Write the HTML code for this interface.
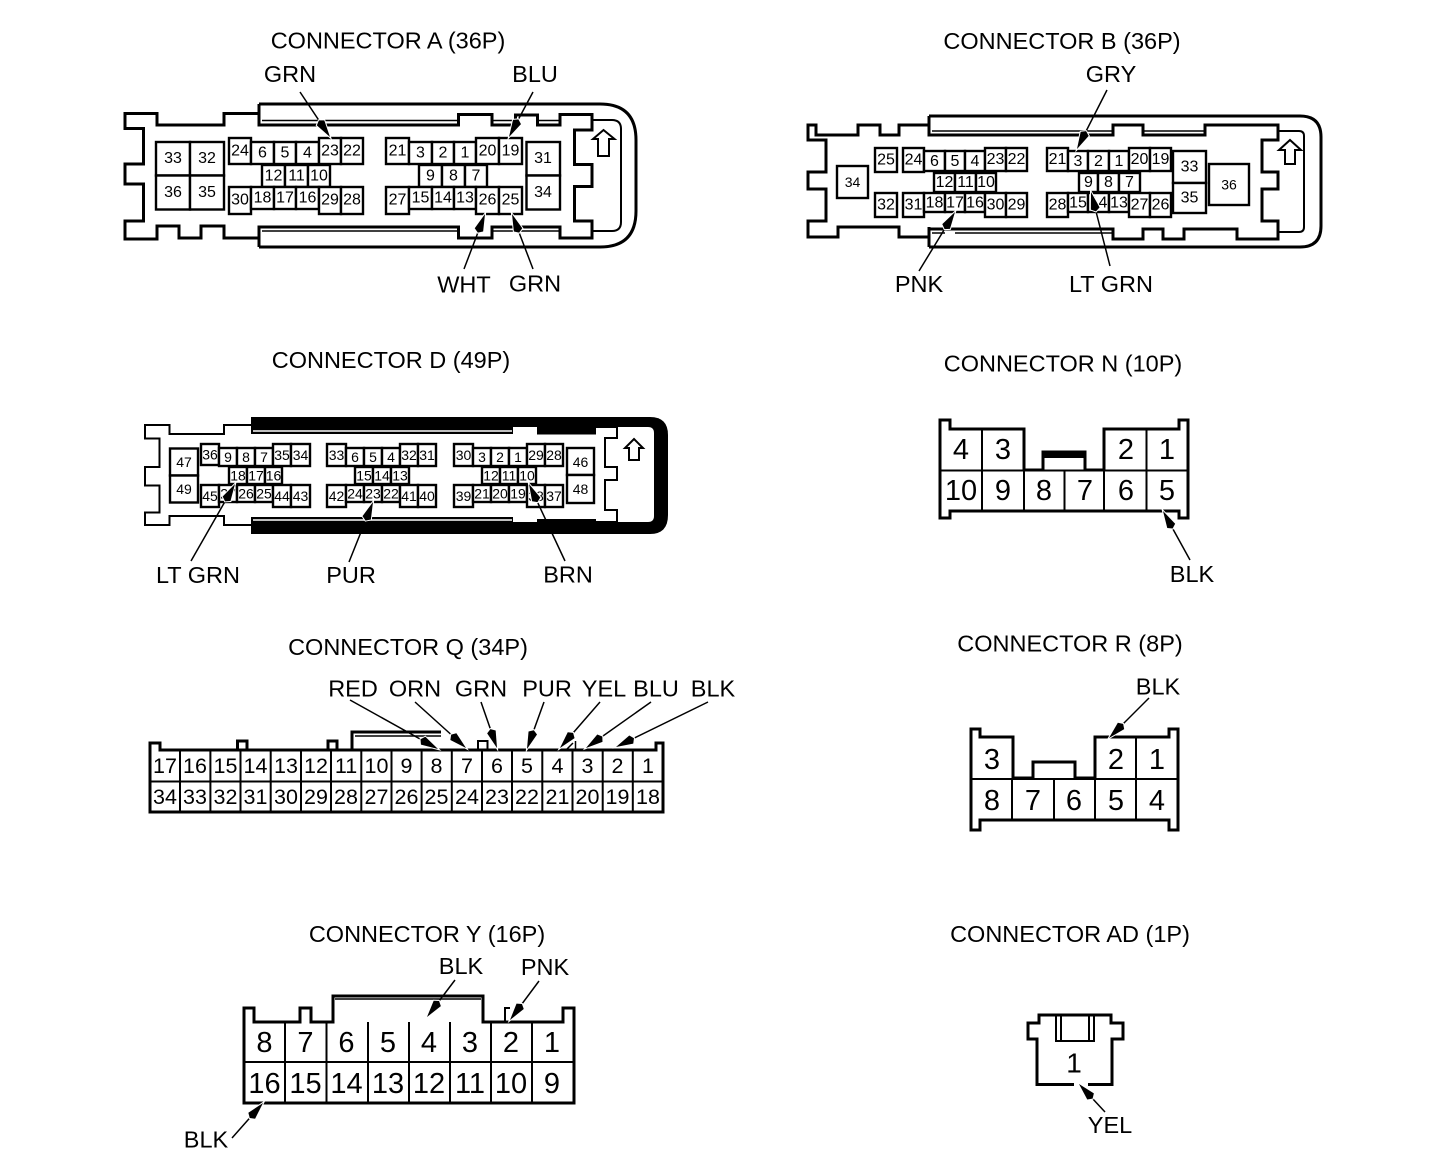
<!DOCTYPE html>
<html><head><meta charset="utf-8"><style>
html,body{margin:0;padding:0;background:#fff}
svg{display:block}
text{font-family:"Liberation Sans",sans-serif;fill:#000;text-anchor:middle;dominant-baseline:central;stroke:none}
.t{font-size:23.5px}
.a rect,.c rect{fill:#fff;stroke:#000;stroke-width:2.4}
.a text{font-size:16px}.d text{font-size:14px}.q text{font-size:21.5px}.n text{font-size:29px}
.l{fill:none;stroke:#000;stroke-width:3;stroke-linejoin:miter}
.h{fill:none;stroke:#000;stroke-width:1.5}
.w{fill:none;stroke:#000;stroke-width:2}
.r{stroke:#000;stroke-width:1.5;fill:none;marker-end:url(#m)}
</style></head><body>
<svg width="1456" height="1168" viewBox="0 0 1456 1168" xmlns="http://www.w3.org/2000/svg">
<defs><marker id="m" markerUnits="userSpaceOnUse" markerWidth="28" markerHeight="18" refX="23" refY="9" orient="auto"><path d="M3,9 L6,4.500 L23,9 L6,13.500 Z" fill="#000" stroke="#fff" stroke-width="2" paint-order="stroke"/></marker></defs>
<rect width="1456" height="1168" fill="#fff"/>

<!-- titles -->
<text class="t" x="388" y="40.500">CONNECTOR A (36P)</text>
<text class="t" x="1062" y="41">CONNECTOR B (36P)</text>
<text class="t" x="391" y="360">CONNECTOR D (49P)</text>
<text class="t" x="1063" y="363.500">CONNECTOR N (10P)</text>
<text class="t" x="408" y="647">CONNECTOR Q (34P)</text>
<text class="t" x="1070" y="643.500">CONNECTOR R (8P)</text>
<text class="t" x="427" y="934">CONNECTOR Y (16P)</text>
<text class="t" x="1070" y="934">CONNECTOR AD (1P)</text>

<!-- CONNECTOR A -->
<path class="l" d="M259,113.500 H224 V125 H157 V113.500 H125 V128.500 H143.500 V164 H125 V184 H143.500 V221 H125 V239 H157 V226 H179 V238 H201 V226 H224 V238 H259"/>
<path class="l" d="M259,104 V125 H458.500 V114.500 H492 V125 H515.500 V115 H537.500 V125 H560 V114.500 H592 V130 H574.500 V164.500 H592 V186.500 H574.500 V221 H592 V238 H560 V227 H492 V238 H458.500 V227 H259 V247"/>
<path class="l" d="M259,104 H600 Q636,104 636,140 V211 Q636,247 600,247 H259"/>
<path class="w" d="M592,120 H612 Q621,120 621,129 V222 Q621,231 612,231 H592"/>
<path class="h" d="M262,120.500 H458 M492,120.500 H515 M537,120.500 H560 M262,231 H458 M492,231 H560"/>
<path class="w" d="M603.500,130 L614.500,139 H609 V156 H598 V139 H593 Z"/>
<g class="a">
<rect x="156" y="142" width="34" height="33.500"/><text x="173" y="158.500">33</text>
<rect x="190" y="142" width="34" height="33.500"/><text x="207" y="158.500">32</text>
<rect x="156" y="175.500" width="34" height="34"/><text x="173" y="192.500">36</text>
<rect x="190" y="175.500" width="34" height="34"/><text x="207" y="192.500">35</text>
<rect x="229" y="138" width="22" height="26"/><text x="240" y="151">24</text>
<rect x="251" y="142" width="23" height="22"/><text x="262.500" y="153">6</text>
<rect x="274" y="142" width="22" height="22"/><text x="285" y="153">5</text>
<rect x="296" y="142" width="23" height="22"/><text x="307.500" y="153">4</text>
<rect x="319" y="138" width="22" height="26"/><text x="330" y="151">23</text>
<rect x="341" y="138" width="22" height="26"/><text x="352" y="151">22</text>
<rect x="262" y="165" width="23" height="22"/><text x="273.500" y="176">12</text>
<rect x="285" y="165" width="23" height="22"/><text x="296.500" y="176">11</text>
<rect x="308" y="165" width="22" height="22"/><text x="319" y="176">10</text>
<rect x="229" y="187" width="22" height="27"/><text x="240" y="200">30</text>
<rect x="251" y="187" width="23" height="22"/><text x="262.500" y="198">18</text>
<rect x="274" y="187" width="22" height="22"/><text x="285" y="198">17</text>
<rect x="296" y="187" width="23" height="22"/><text x="307.500" y="198">16</text>
<rect x="319" y="187" width="22" height="27"/><text x="330" y="200">29</text>
<rect x="341" y="187" width="22" height="27"/><text x="352" y="200">28</text>
<rect x="386" y="138" width="23" height="26"/><text x="397.500" y="151">21</text>
<rect x="409" y="142" width="23" height="22"/><text x="420.500" y="153">3</text>
<rect x="432" y="142" width="22" height="22"/><text x="443" y="153">2</text>
<rect x="454" y="142" width="22" height="22"/><text x="465" y="153">1</text>
<rect x="476" y="138" width="23" height="26"/><text x="487.500" y="151">20</text>
<rect x="499" y="138" width="23" height="26"/><text x="510.500" y="151">19</text>
<rect x="419" y="165" width="23" height="22"/><text x="430.500" y="176">9</text>
<rect x="442" y="165" width="23" height="22"/><text x="453.500" y="176">8</text>
<rect x="465" y="165" width="22" height="22"/><text x="476" y="176">7</text>
<rect x="386" y="187" width="23" height="27"/><text x="397.500" y="200">27</text>
<rect x="409" y="187" width="23" height="22"/><text x="420.500" y="198">15</text>
<rect x="432" y="187" width="22" height="22"/><text x="443" y="198">14</text>
<rect x="454" y="187" width="22" height="22"/><text x="465" y="198">13</text>
<rect x="476" y="187" width="23" height="27"/><text x="487.500" y="200">26</text>
<rect x="499" y="187" width="23" height="27"/><text x="510.500" y="200">25</text>
<rect x="526.500" y="142" width="33.500" height="33.500"/><text x="543" y="158.500">31</text>
<rect x="526.500" y="175.500" width="33.500" height="34"/><text x="543" y="192.500">34</text>
</g>
<text class="t" x="290" y="74">GRN</text><text class="t" x="535" y="74">BLU</text>
<text class="t" x="464" y="284.500">WHT</text><text class="t" x="535" y="283.500">GRN</text>
<line class="r" x1="300" y1="92" x2="330" y2="137"/>
<line class="r" x1="533" y1="92" x2="509" y2="137"/>
<line class="r" x1="464" y1="269" x2="485" y2="214"/>
<line class="r" x1="533" y1="269" x2="512" y2="214"/>

<!-- CONNECTOR B -->
<path class="l" d="M929,125 H899 V135 H880 V125 H858 V135 H816 V125 H808 V140 H826 V172 H808 V189 H826 V221 H808 V237 H838 V227 H899 V237 H929"/>
<path class="l" d="M929,247 V227 M929,116 V135 H1113 V125 H1143 V135 H1205 V125 H1278 V140 H1262 V172 H1278 V189 H1262 V221 H1278 V239 H1237 V229 H1184 V239 H1163 V229 H1143 V239 H1113 V229 H929"/>
<path class="l" d="M929,116 H1300 Q1321,116 1321,137 V226 Q1321,247 1300,247 H929"/>
<path class="w" d="M1278,131 H1299 Q1304,131 1304,136 V227 Q1304,232 1299,232 H1278"/>
<path class="h" d="M932,131 H1113 M1143,131 H1205 M955,233 H1113 M932,233 H945"/>
<path class="w" d="M1290,140 L1301,150 H1295 V164 H1285 V150 H1279 Z"/>
<g class="a">
<rect x="875" y="148" width="22" height="24"/><text x="886" y="160">25</text>
<rect x="875" y="193" width="22" height="24"/><text x="886" y="205">32</text>
<rect x="837" y="166" width="31" height="32" stroke-width="3"/><text x="852.500" y="182" style="font-size:14px">34</text>
<rect x="903" y="148" width="21" height="24"/><text x="913.500" y="160">24</text>
<rect x="924" y="151" width="21" height="20"/><text x="934.500" y="161.500">6</text>
<rect x="945" y="151" width="20" height="20"/><text x="955" y="161.500">5</text>
<rect x="965" y="151" width="20" height="20"/><text x="975" y="161.500">4</text>
<rect x="985" y="148" width="21" height="23"/><text x="995.500" y="159.500">23</text>
<rect x="1006" y="148" width="21" height="23"/><text x="1016.500" y="159.500">22</text>
<rect x="934" y="173" width="21" height="19"/><text x="944.500" y="182.500">12</text>
<rect x="955" y="173" width="21" height="19"/><text x="965.500" y="182.500">11</text>
<rect x="976" y="173" width="20" height="19"/><text x="986" y="182.500">10</text>
<rect x="903" y="193" width="21" height="24"/><text x="913.500" y="205">31</text>
<rect x="924" y="193" width="21" height="19"/><text x="934.500" y="203">18</text>
<rect x="945" y="193" width="20" height="19"/><text x="955" y="203">17</text>
<rect x="965" y="193" width="20" height="19"/><text x="975" y="203">16</text>
<rect x="985" y="193" width="21" height="24"/><text x="995.500" y="205">30</text>
<rect x="1006" y="193" width="21" height="24"/><text x="1016.500" y="205">29</text>
<rect x="1047" y="148" width="21" height="23"/><text x="1057.500" y="159.500">21</text>
<rect x="1068" y="151" width="20" height="20"/><text x="1078" y="161.500">3</text>
<rect x="1088" y="151" width="21" height="20"/><text x="1098.500" y="161.500">2</text>
<rect x="1109" y="151" width="20" height="20"/><text x="1119" y="161.500">1</text>
<rect x="1129" y="148" width="21" height="23"/><text x="1139.500" y="159.500">20</text>
<rect x="1150" y="148" width="21" height="23"/><text x="1160.500" y="159.500">19</text>
<rect x="1079" y="173" width="19" height="19"/><text x="1088.500" y="182.500">9</text>
<rect x="1098" y="173" width="21" height="19"/><text x="1108.500" y="182.500">8</text>
<rect x="1119" y="173" width="21" height="19"/><text x="1129.500" y="182.500">7</text>
<rect x="1047" y="193" width="21" height="24"/><text x="1057.500" y="205">28</text>
<rect x="1068" y="193" width="20" height="19"/><text x="1078" y="203">15</text>
<rect x="1088" y="193" width="21" height="19"/><text x="1098.500" y="203">14</text>
<rect x="1109" y="193" width="20" height="19"/><text x="1119" y="203">13</text>
<rect x="1129" y="193" width="21" height="24"/><text x="1139.500" y="205">27</text>
<rect x="1150" y="193" width="21" height="24"/><text x="1160.500" y="205">26</text>
<rect x="1173" y="151" width="33" height="32"/><text x="1189.500" y="167">33</text>
<rect x="1173" y="183" width="33" height="30"/><text x="1189.500" y="198">35</text>
<rect x="1209" y="164" width="40" height="41" stroke-width="3"/><text x="1229" y="184.500" style="font-size:14px">36</text>
</g>
<text class="t" x="1111" y="74">GRY</text>
<text class="t" x="919" y="284">PNK</text><text class="t" x="1111" y="284">LT GRN</text>
<line class="r" x1="1107" y1="90" x2="1077" y2="149"/>
<line class="r" x1="919" y1="271" x2="955" y2="212"/>
<line class="r" x1="1110" y1="266" x2="1091" y2="192"/>

<!-- CONNECTOR D -->
<path fill="#000" d="M251,417 H650 Q668,417 668,435 V515 Q668,534 650,534 H251 Z"/>
<path fill="#fff" d="M251,434 H513 V427 H537 V434.500 H596 V427 H648 Q654,427 654,433 V516 Q654,522 648,522 H596 V519 H537 V522 H513 V517 H251 Z"/>
<path stroke="#fff" stroke-width="1.500" fill="none" d="M253,431 H512 M253,520 H512"/>
<path class="w" d="M251,425 H224 V434 H169.500 V425 H145 V438.500 H159.500 V467 H145 V485.500 H159.500 V512.500 H145 V525 H169.500 V516 H224 V525 H251"/>
<path class="w" d="M596,427 H617 V438 H605 V467 H617 V480 H605 V510 H617 V522 H596"/>
<path class="w" d="M634,439 L643,448 H639 V460 H629 V448 H625 Z"/>
<g class="a d">
<rect x="170" y="448.500" width="28" height="27"/><text x="184" y="462">47</text>
<rect x="170" y="475.500" width="28" height="27"/><text x="184" y="489">49</text>
<rect x="201" y="444" width="18" height="21"/><text x="210" y="454.500">36</text>
<rect x="219" y="448" width="18" height="18"/><text x="228" y="457">9</text>
<rect x="237" y="448" width="18" height="18"/><text x="246" y="457">8</text>
<rect x="255" y="448" width="18" height="18"/><text x="264" y="457">7</text>
<rect x="273" y="444" width="18" height="22"/><text x="282" y="455">35</text>
<rect x="291" y="444" width="19" height="22"/><text x="300.500" y="455">34</text>
<rect x="229" y="467" width="18" height="17"/><text x="238" y="475.500">18</text>
<rect x="247" y="467" width="18" height="17"/><text x="256" y="475.500">17</text>
<rect x="265" y="467" width="17" height="17"/><text x="273.500" y="475.500">16</text>
<rect x="201" y="485" width="18" height="22"/><text x="210" y="496">45</text>
<rect x="219" y="485" width="18" height="17"/><text x="228" y="493.500">27</text>
<rect x="237" y="485" width="18" height="17"/><text x="246" y="493.500">26</text>
<rect x="255" y="485" width="18" height="17"/><text x="264" y="493.500">25</text>
<rect x="273" y="485" width="18" height="22"/><text x="282" y="496">44</text>
<rect x="291" y="485" width="19" height="22"/><text x="300.500" y="496">43</text>
<rect x="327" y="444" width="19" height="22"/><text x="336.500" y="455">33</text>
<rect x="346" y="448" width="18" height="18"/><text x="355" y="457">6</text>
<rect x="364" y="448" width="18" height="18"/><text x="373" y="457">5</text>
<rect x="382" y="448" width="18" height="18"/><text x="391" y="457">4</text>
<rect x="400" y="444" width="18" height="22"/><text x="409" y="455">32</text>
<rect x="418" y="444" width="18" height="22"/><text x="427" y="455">31</text>
<rect x="355" y="467" width="18" height="17"/><text x="364" y="475.500">15</text>
<rect x="373" y="467" width="18" height="17"/><text x="382" y="475.500">14</text>
<rect x="391" y="467" width="18" height="17"/><text x="400" y="475.500">13</text>
<rect x="327" y="485" width="19" height="22"/><text x="336.500" y="496">42</text>
<rect x="346" y="485" width="18" height="17"/><text x="355" y="493.500">24</text>
<rect x="364" y="485" width="18" height="17"/><text x="373" y="493.500">23</text>
<rect x="382" y="485" width="18" height="17"/><text x="391" y="493.500">22</text>
<rect x="400" y="485" width="18" height="22"/><text x="409" y="496">41</text>
<rect x="418" y="485" width="18" height="22"/><text x="427" y="496">40</text>
<rect x="454" y="444" width="19" height="22"/><text x="463.500" y="455">30</text>
<rect x="473" y="448" width="18" height="18"/><text x="482" y="457">3</text>
<rect x="491" y="448" width="18" height="18"/><text x="500" y="457">2</text>
<rect x="509" y="448" width="18" height="18"/><text x="518" y="457">1</text>
<rect x="527" y="444" width="18" height="22"/><text x="536" y="455">29</text>
<rect x="545" y="444" width="18" height="22"/><text x="554" y="455">28</text>
<rect x="482" y="467" width="18" height="17"/><text x="491" y="475.500">12</text>
<rect x="500" y="467" width="18" height="17"/><text x="509" y="475.500">11</text>
<rect x="518" y="467" width="18" height="17"/><text x="527" y="475.500">10</text>
<rect x="454" y="485" width="19" height="22"/><text x="463.500" y="496">39</text>
<rect x="473" y="485" width="18" height="17"/><text x="482" y="493.500">21</text>
<rect x="491" y="485" width="18" height="17"/><text x="500" y="493.500">20</text>
<rect x="509" y="485" width="18" height="17"/><text x="518" y="493.500">19</text>
<rect x="527" y="485" width="18" height="22"/><text x="536" y="496">38</text>
<rect x="545" y="485" width="18" height="22"/><text x="554" y="496">37</text>
<rect x="567" y="448" width="27" height="27"/><text x="580.500" y="462">46</text>
<rect x="567" y="475" width="27" height="28"/><text x="580.500" y="489">48</text>
</g>
<text class="t" x="198" y="575">LT GRN</text><text class="t" x="351" y="575">PUR</text><text class="t" x="568" y="574.500">BRN</text>
<line class="r" x1="191" y1="561" x2="235" y2="484"/>
<line class="r" x1="349" y1="562" x2="373" y2="502"/>
<line class="r" x1="565" y1="561" x2="529" y2="484"/>

<!-- CONNECTOR N -->
<path class="l" d="M940,420 H950 V429 H1024 V470 H1043 V452 H1085 V470 H1104 V429 H1179 V420 H1188 V518 H1179 V511 H950 V518 H940 Z"/>
<path fill="#000" d="M1043,451 H1085 V458 H1043 Z"/>
<path class="w" d="M940,470.500 H1188 M982,429 V511 M1024,429 V511 M1064.500,470 V511 M1104,429 V511 M1146.500,429 V511"/>
<g class="n">
<text x="961" y="450">4</text><text x="1003" y="450">3</text><text x="1126" y="450">2</text><text x="1167" y="450">1</text>
<text x="961" y="491">10</text><text x="1003" y="491">9</text><text x="1044" y="491">8</text><text x="1085" y="491">7</text><text x="1126" y="491">6</text><text x="1167" y="491">5</text>
</g>
<text class="t" x="1192" y="574">BLK</text>
<line class="r" x1="1190" y1="560" x2="1163" y2="511"/>

<!-- CONNECTOR Q -->
<path class="l" d="M663,743 V812 H150 V743 H160 V750 H656 V743 Z"/>
<path class="l" d="M237.500,750 V741 H247 V750 M328,750 V741 H337 V750 M352,750 V732 H441"/>
<path class="h" d="M355,736 H441 M575.500,750 V741 M566,750 L573,743"/>
<path class="w" d="M478,750 V741 H487.500 V750 M150,781.500 H663 M180,750 V812 M210.400,750 V812 M240.500,750 V812 M270.700,750 V812 M301,750 V812 M331,750 V812 M361.300,750 V812 M391.500,750 V812 M421.600,750 V812 M451.800,750 V812 M482,750 V812 M512,750 V812 M542.300,750 V812 M572.500,750 V812 M602.700,750 V812 M632.800,750 V812"/>
<g class="q">
<text x="165" y="766">17</text><text x="195" y="766">16</text><text x="225.500" y="766">15</text><text x="255.500" y="766">14</text><text x="286" y="766">13</text><text x="316" y="766">12</text><text x="346" y="766">11</text><text x="376.500" y="766">10</text><text x="406.500" y="766">9</text><text x="436.500" y="766">8</text><text x="467" y="766">7</text><text x="497" y="766">6</text><text x="527" y="766">5</text><text x="557.500" y="766">4</text><text x="587.500" y="766">3</text><text x="617.500" y="766">2</text><text x="648" y="766">1</text>
<text x="165" y="797">34</text><text x="195" y="797">33</text><text x="225.500" y="797">32</text><text x="255.500" y="797">31</text><text x="286" y="797">30</text><text x="316" y="797">29</text><text x="346" y="797">28</text><text x="376.500" y="797">27</text><text x="406.500" y="797">26</text><text x="436.500" y="797">25</text><text x="467" y="797">24</text><text x="497" y="797">23</text><text x="527" y="797">22</text><text x="557.500" y="797">21</text><text x="587.500" y="797">20</text><text x="617.500" y="797">19</text><text x="648" y="797">18</text>
</g>
<text class="t" x="353" y="688.500">RED</text><text class="t" x="415" y="688.500">ORN</text><text class="t" x="481" y="688.500">GRN</text><text class="t" x="547" y="688.500">PUR</text><text class="t" x="604" y="688.500">YEL</text><text class="t" x="656" y="688.500">BLU</text><text class="t" x="713" y="688.500">BLK</text>
<line class="r" x1="350" y1="700" x2="438" y2="749"/>
<line class="r" x1="415" y1="702" x2="466" y2="748"/>
<line class="r" x1="481" y1="702" x2="497" y2="748"/>
<line class="r" x1="544" y1="702" x2="527" y2="749"/>
<line class="r" x1="600" y1="702" x2="560" y2="748"/>
<line class="r" x1="651" y1="702" x2="586" y2="748"/>
<line class="r" x1="708" y1="702" x2="616" y2="747"/>

<!-- CONNECTOR R -->
<path class="l" d="M971,729 H980 V737 H1013 V778 H1033 V762 H1075 V778 H1095 V737 H1169 V729 H1178 V830 H1169 V820 H980 V830 H971 Z"/>
<path class="w" d="M971,779 H1178 M1012,779 V820 M1054,779 V820 M1095,737 V820 M1136,737 V820"/>
<g class="n">
<text x="992" y="760">3</text><text x="1116" y="760">2</text><text x="1157" y="760">1</text>
<text x="992" y="801">8</text><text x="1033" y="801">7</text><text x="1074" y="801">6</text><text x="1116" y="801">5</text><text x="1157" y="801">4</text>
</g>
<text class="t" x="1158" y="686.500">BLK</text>
<line class="r" x1="1149" y1="698" x2="1109" y2="738"/>

<!-- CONNECTOR Y -->
<path class="l" d="M244,1008 H254 V1022 H300 V1008 H311 V1022 H333 V996 H483 V1022 H563 V1008 H574 V1103 H244 Z"/>
<path class="h" d="M335,999 H481"/>
<path class="w" d="M505,1021 V1008 H510 M244,1062 H574 M285,1022 V1103 M326.500,1022 V1103 M368,1022 V1103 M409,1022 V1103 M450,1022 V1103 M491,1022 V1103 M532,1022 V1103"/>
<g class="n">
<text x="264.500" y="1043">8</text><text x="305.500" y="1043">7</text><text x="346.500" y="1043">6</text><text x="388" y="1043">5</text><text x="429" y="1043">4</text><text x="470" y="1043">3</text><text x="511" y="1043">2</text><text x="552" y="1043">1</text>
<text x="264.500" y="1084">16</text><text x="305.500" y="1084">15</text><text x="346.500" y="1084">14</text><text x="388" y="1084">13</text><text x="429" y="1084">12</text><text x="470" y="1084">11</text><text x="511" y="1084">10</text><text x="552" y="1084">9</text>
</g>
<text class="t" x="461" y="966">BLK</text><text class="t" x="545" y="967">PNK</text><text class="t" x="206" y="1139.500">BLK</text>
<line class="r" x1="455" y1="980" x2="427" y2="1017"/>
<line class="r" x1="539" y1="981" x2="510" y2="1020"/>
<line class="r" x1="232" y1="1138" x2="263" y2="1103"/>

<!-- CONNECTOR AD -->
<path class="l" d="M1074,1084.500 H1037 V1039 H1028 V1023 H1039 V1015 H1111 V1023 H1123 V1039 H1112 V1084.500 H1088"/>
<path class="w" d="M1056,1015 V1041 H1094 V1015 M1061,1015 V1041 M1089,1015 V1041"/>
<text x="1074" y="1063" style="font-size:28px">1</text>
<text class="t" x="1110" y="1125">YEL</text>
<line class="r" x1="1105" y1="1112" x2="1079" y2="1084"/>
</svg>
</body></html>
